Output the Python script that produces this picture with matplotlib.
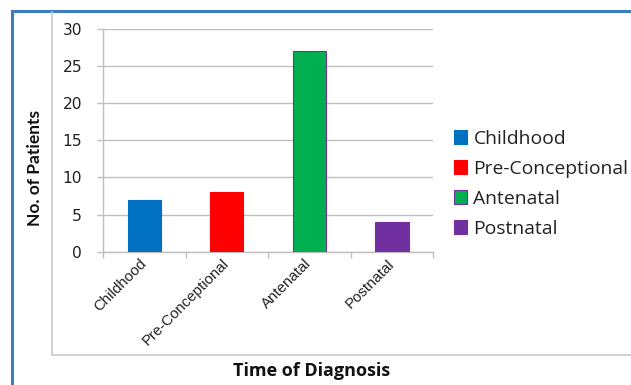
import matplotlib
matplotlib.use("Agg")
import matplotlib.pyplot as plt
from matplotlib.patches import Patch
from matplotlib.lines import Line2D

# Data
categories = ["Childhood", "Pre-Conceptional", "Antenatal", "Postnatal"]
patients = [7, 8, 27, 4]
colors = ["#0070C0", "#FF0000", "#00B050", "#7030A0"]
edge_colors = ["#0070C0", "#FF0000", "#7030A0", "#7030A0"]
yticks = [0, 5, 10, 15, 20, 25, 30]

W, H = 631, 385
fig = plt.figure(figsize=(W / 100, H / 100), dpi=100)
fig.patch.set_facecolor("white")

def fx(px):
    return px / W

def fy(py):
    return 1 - py / H

# outer frames
fig.add_artist(Line2D([fx(12), fx(12), fx(631)], [fy(385), fy(11), fy(11)],
                      color="#3B7CC4", lw=2.2, solid_joinstyle="miter"))
fig.add_artist(Line2D([fx(52), fx(52), fx(631)], [fy(12), fy(355), fy(355)],
                      color="#C8C8C8", lw=1.2))

ax = fig.add_axes([fx(103), fy(251.7), fx(433.3) - fx(103), fy(29) - fy(251.7)])

x = list(range(len(categories)))
ax.bar(x, patients, width=0.40, color=colors, edgecolor=edge_colors,
       linewidth=0.8, zorder=3)

ax.set_xlim(-0.5, len(categories) - 0.5)
ax.set_ylim(0, 30)
ax.set_yticks(yticks)
ax.set_yticklabels([str(v) for v in yticks], family="DejaVu Sans")
ax.yaxis.grid(True, color="#BFBFBF", lw=1.0, zorder=0)
ax.set_axisbelow(True)

for s in ["top", "right"]:
    ax.spines[s].set_visible(False)
for s in ["left", "bottom"]:
    ax.spines[s].set_color("#BFBFBF")
    ax.spines[s].set_linewidth(1.0)

ax.tick_params(axis="y", length=4.5, width=1.0, color="#BFBFBF", pad=10.5,
               labelsize=11.2, labelcolor="#222222")

# category boundary ticks on x axis
ax.set_xticks([i - 0.5 for i in range(len(categories) + 1)], minor=False)
ax.set_xticklabels([])
ax.tick_params(axis="x", which="major", length=4, width=1.0, color="#BFBFBF")
ax.set_xticks(x, minor=True)
ax.set_xticklabels(categories, minor=True, rotation=45, ha="right",
                   va="center", rotation_mode="anchor", fontsize=10.8,
                   family="Liberation Sans", color="#222222")
ax.tick_params(axis="x", which="minor", length=0, pad=7)

ax.set_xlabel("Time of Diagnosis", fontsize=13, fontweight="bold",
              family="Open Sans", color="#111111")
ax.xaxis.set_label_coords((311.7 - 103) / 330.3, (251.7 - 361.5) / 222.7)
ax.set_ylabel("No. of Patients", fontsize=12.5, fontweight="bold",
              family="Lato", color="#111111")
ax.yaxis.label.set_va("center")
ax.yaxis.set_label_coords((35 - 103) / 330.3, (251.7 - 168) / 222.7)

handles = [Patch(facecolor=c, edgecolor=e, lw=0.8) for c, e in zip(colors, edge_colors)]
leg = fig.legend(handles, categories, loc="upper left",
                 bbox_to_anchor=(fx(448), fy(124)), frameon=False,
                 prop={"family": "Open Sans", "size": 13.9},
                 handlelength=0.7, handleheight=0.7, handletextpad=0.32,
                 labelspacing=0.62, borderaxespad=0, borderpad=0.3)
for t in leg.get_texts():
    t.set_color("#222222")

fig.savefig("out.png", dpi=100, facecolor="white")
